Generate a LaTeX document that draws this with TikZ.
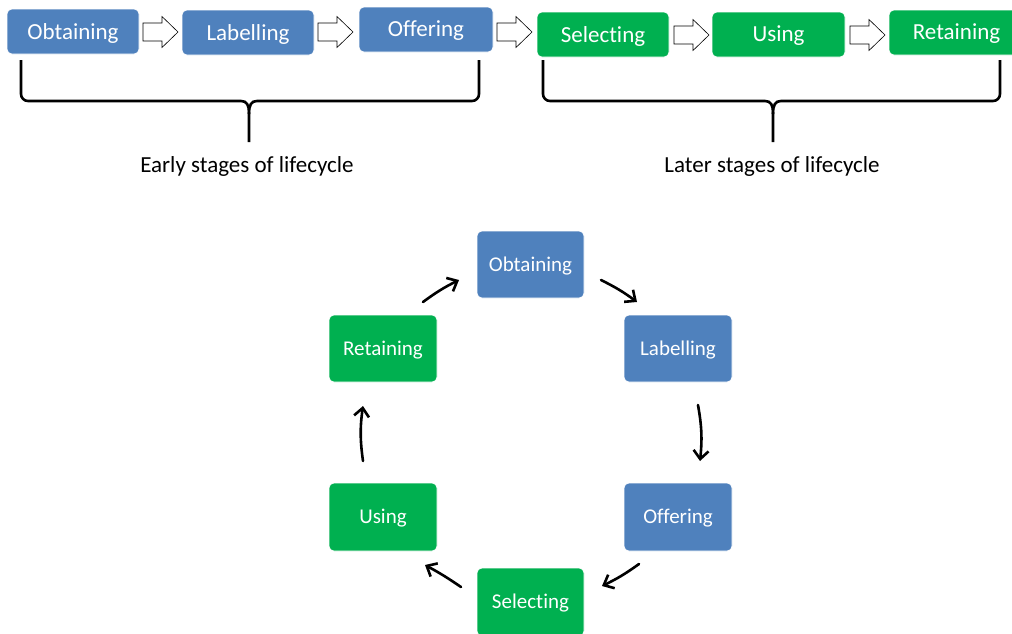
\documentclass[tikz,border=0pt]{standalone}
\usepackage{fontspec}
\setmainfont{Carlito}[Ligatures=NoCommon]
\usetikzlibrary{arrows.meta}
\definecolor{stageblue}{HTML}{4F81BD}
\definecolor{stagegreen}{HTML}{00B050}
\begin{document}
\begin{tikzpicture}[x=1pt,y=-1pt,
  box/.style={rounded corners=5pt,draw=white,line width=0.6pt,text=white},
  bluebox/.style={box,fill=stageblue},
  greenbox/.style={box,fill=stagegreen},
  toplabel/.style={font=\fontsize{23}{27}\selectfont},
  cyclabel/.style={font=\fontsize{21}{25}\selectfont},
  blockarrow/.style={draw=black,fill=white,line width=0.6pt},
  bracepath/.style={line width=2.6pt,line join=round},
  cycarrow/.style={line width=2.6pt,line cap=round,-{Straight Barb[length=8.5pt,width=15pt,line width=2.6pt]}},
  caption/.style={font=\fontsize{23}{27}\selectfont,text=black}]
\useasboundingbox (0,0) rectangle (1012,633);

% top row: lifecycle stages in order
\foreach \nm/\xa/\ya/\xb/\yb/\col/\txt in {
  tObt/7/9/139/54/bluebox/Obtaining,
  tLab/182/10/314/55/bluebox/Labelling,
  tOff/359/7/493/52/bluebox/Offering,
  tSel/537/12/669/57/greenbox/Selecting,
  tUse/712/12/845/57/greenbox/Using,
  tRet/889/10/1024/55/greenbox/Retaining}{
  \draw[\col] (\xa,\ya) rectangle (\xb,\yb);
  \node[toplabel,text=white] (\nm) at ({(\xa+\xb)/2},{(\ya+\yb)/2+1.5}) {\txt};
}

% hollow block arrows between the stages
\foreach \xa/\yc in {143/32, 318/32, 497/32, 674/35, 850/35}{
  \draw[blockarrow] (\xa,\yc-9) -- (\xa+19,\yc-9) -- (\xa+19,\yc-15.5)
    -- (\xa+35,\yc) -- (\xa+19,\yc+15.5) -- (\xa+19,\yc+9) -- (\xa,\yc+9) -- cycle;
}

% braces grouping the stages
\foreach \xl/\xm/\xr in {21/249/479, 543/773/1000}{
  \draw[bracepath] (\xl,60) -- (\xl,94) to[out=-90,in=180] (\xl+7,101)
    -- (\xm-8,101) .. controls (\xm-2,101) and (\xm,105) .. (\xm,114) -- (\xm,142);
  \draw[bracepath] (\xr,60) -- (\xr,94) to[out=-90,in=0] (\xr-7,101)
    -- (\xm+8,101) .. controls (\xm+2,101) and (\xm,105) .. (\xm,114);
}
\node[caption] (early) at (247,166) {Early stages of lifecycle};
\node[caption] (later) at (772,166) {Later stages of lifecycle};

% lifecycle as a cycle
\foreach \nm/\xa/\ya/\xb/\yb/\col/\txt in {
  cObt/477/231/584/298/bluebox/Obtaining,
  cLab/624/315/732/382/bluebox/Labelling,
  cOff/624/483/732/551/bluebox/Offering,
  cSel/477/568/584/636/greenbox/Selecting,
  cUse/329/483/437/551/greenbox/Using,
  cRet/329/315/437/382/greenbox/Retaining}{
  \draw[\col] (\xa,\ya) rectangle (\xb,\yb);
  \node[cyclabel,text=white] (\nm) at ({(\xa+\xb)/2},{(\ya+\yb)/2+1.5}) {\txt};
}

% arrow end points around the cycle
\coordinate (a1s) at (423,302); \coordinate (a1e) at (459,280);
\coordinate (a2s) at (601,280); \coordinate (a2e) at (637,302);
\coordinate (a3s) at (698,405); \coordinate (a3e) at (700,461);
\coordinate (a4s) at (639,564); \coordinate (a4e) at (602,586);
\coordinate (a5s) at (461,587); \coordinate (a5e) at (425,565);
\coordinate (a6s) at (363,461); \coordinate (a6e) at (363,406);

\draw[cycarrow] (a1s) to[bend left=5] (a1e);
\draw[cycarrow] (a2s) to[bend left=5] (a2e);
\draw[cycarrow] (a3s) to[bend left=8] (a3e);
\draw[cycarrow] (a4s) to[bend left=5] (a4e);
\draw[cycarrow] (a5s) to[bend right=3] (a5e);
\draw[cycarrow] (a6s) to[bend left=8] (a6e);
\end{tikzpicture}
\end{document}
